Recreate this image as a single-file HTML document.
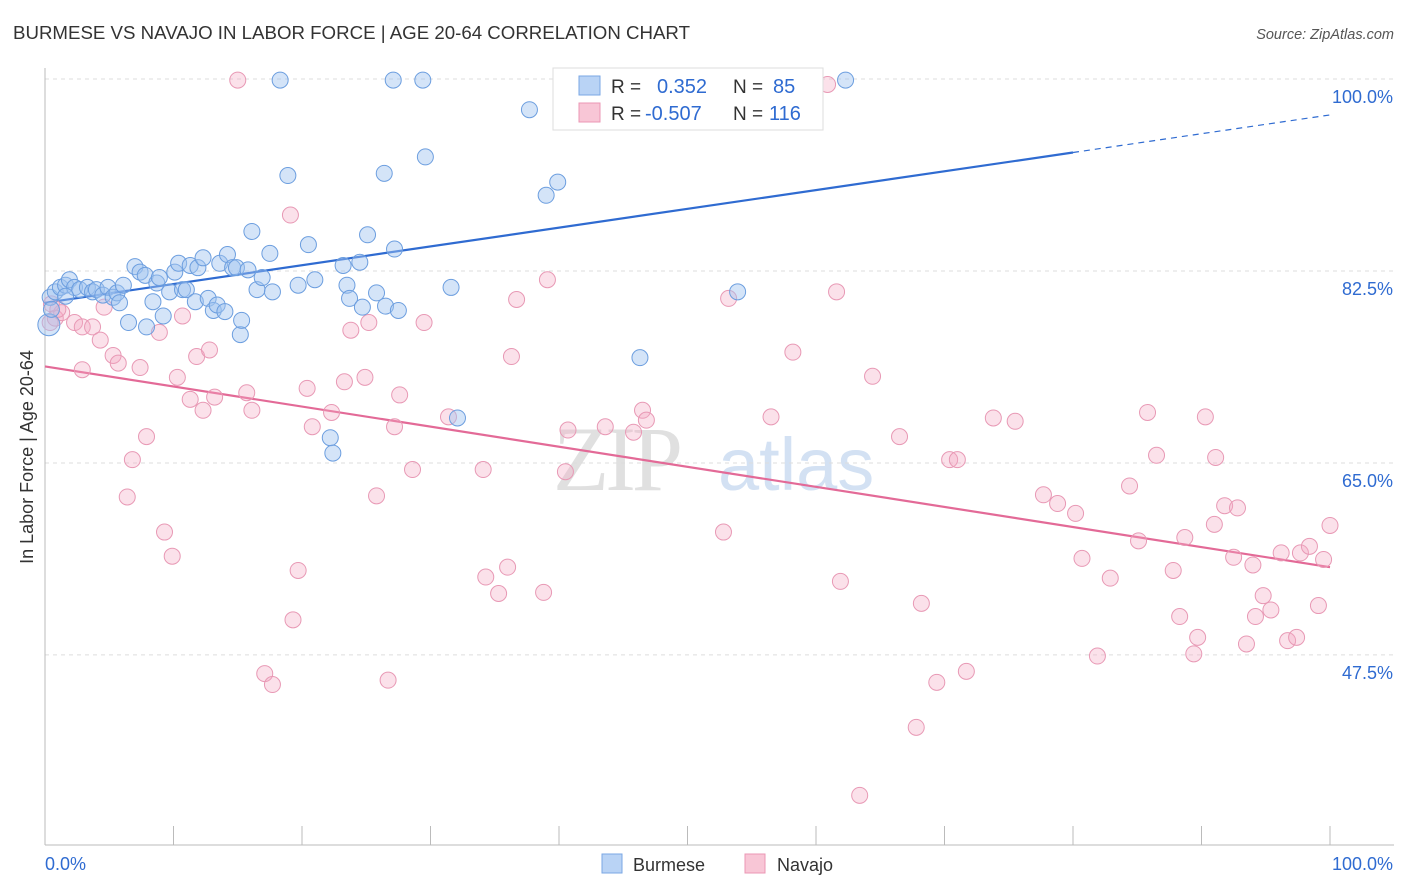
<!DOCTYPE html>
<html><head><meta charset="utf-8"><style>
body{margin:0;background:#fff;font-family:"Liberation Sans",sans-serif}
svg{display:block}
</style></head><body>
<svg id="chart" width="1406" height="892" viewBox="0 0 1406 892">
<text x="13" y="39" font-size="18" fill="#333" textLength="677" lengthAdjust="spacingAndGlyphs">BURMESE VS NAVAJO IN LABOR FORCE | AGE 20-64 CORRELATION CHART</text>
<text x="1394" y="39" font-size="14.5" fill="#555" font-style="italic" text-anchor="end">Source: ZipAtlas.com</text>
<text x="33" y="457" font-size="18" fill="#333" text-anchor="middle" transform="rotate(-90 33 457)">In Labor Force | Age 20-64</text>
<g><text x="553" y="490" font-size="92" fill="#e0e0e0" font-family="Liberation Serif,serif" letter-spacing="-4">ZIP</text><text x="718" y="490" font-size="74" fill="#d3e1f3">atlas</text></g>
<g id="grid"></g><g id="axes"></g><g id="trend"></g><g id="pts"></g>
<g>
<rect x="553" y="68" width="270" height="62" fill="#fff" stroke="#ddd"/>
<rect x="579" y="76" width="21" height="19" fill="#b9d3f5" stroke="#7aa7e4"/>
<rect x="579" y="103" width="21" height="19" fill="#f8c6d6" stroke="#eb97b4"/>
<text x="611" y="93" font-size="19" fill="#333">R =</text><text x="657" y="93" font-size="20" fill="#2f6bd1">0.352</text>
<text x="733" y="93" font-size="19" fill="#333">N =</text><text x="773" y="93" font-size="20" fill="#2f6bd1">85</text>
<text x="611" y="120" font-size="19" fill="#333">R =</text><text x="645" y="120" font-size="20" fill="#2f6bd1">-0.507</text>
<text x="733" y="120" font-size="19" fill="#333">N =</text><text x="769" y="120" font-size="20" fill="#2f6bd1">116</text>
</g>
<g>
<rect x="602" y="854" width="20" height="19" fill="#b9d3f5" stroke="#7aa7e4"/><text x="633" y="871" font-size="18" fill="#333">Burmese</text>
<rect x="745" y="854" width="20" height="19" fill="#f8c6d6" stroke="#eb97b4"/><text x="777" y="871" font-size="18" fill="#333">Navajo</text>
</g>
</svg>
<script>
const yTicks=[100,82.5,65,47.5];
const yTickLabels=["100.0%","82.5%","65.0%","47.5%"];
const xTickLabels=["0.0%","100.0%"];
const blueX=[0.3,0.4,0.8,1.2,1.6,1.9,2.3,2.7,3.3,3.7,4.0,4.5,4.9,5.3,5.6,5.8,6.1,6.5,7.0,7.4,7.8,7.9,8.4,8.7,8.9,9.2,9.7,10.1,10.4,10.7,11.0,11.3,11.7,11.9,12.3,12.7,13.1,13.4,13.6,14.0,14.2,14.6,14.9,15.2,15.3,15.8,16.1,16.5,16.9,17.5,17.7,18.3,18.9,19.7,20.5,21.0,23.2,23.5,23.7,24.5,24.7,25.1,25.8,26.4,26.5,27.2,27.5,27.1,29.4,29.6,31.6,32.1,22.2,22.4,37.7,39.0,39.9,46.3,53.9,62.3,0.5,1.6];
const blueY=[77.6,80.1,80.6,81.0,81.2,81.7,81.0,80.8,81.0,80.6,80.8,80.3,81.0,80.1,80.5,79.6,81.2,77.8,82.9,82.4,82.1,77.4,79.7,81.4,81.9,78.4,80.6,82.4,83.2,80.8,80.8,83.0,79.7,82.8,83.7,80.0,78.9,79.4,83.2,78.8,84.0,82.8,82.8,76.7,78.0,82.6,86.1,80.8,81.9,84.1,80.6,99.9,91.2,81.2,84.9,81.7,83.0,81.2,80.0,83.3,79.2,85.8,80.5,91.4,79.3,84.5,78.9,99.9,99.9,92.9,81.0,69.1,67.3,65.9,97.2,89.4,90.6,74.6,80.6,99.9,79.0,80.2];
const pinkX=[0.4,0.8,1.3,2.3,2.9,3.7,4.3,4.6,5.3,5.7,2.9,7.4,7.9,6.8,6.4,8.9,9.3,9.9,10.3,10.7,11.3,11.8,12.3,12.8,13.2,15.0,15.7,16.1,17.1,17.7,19.1,19.3,19.7,20.4,20.8,22.3,23.3,23.8,24.9,25.2,25.8,26.7,27.2,27.6,28.6,29.5,31.4,34.1,34.3,35.3,36.0,36.3,36.7,38.8,39.1,40.5,40.7,43.6,45.8,46.5,46.8,52.5,52.8,53.2,56.5,58.2,60.9,61.6,61.9,64.4,66.5,68.2,67.8,69.4,70.4,71.0,71.7,73.8,75.5,77.7,78.8,80.2,80.7,81.9,82.9,84.4,85.1,85.8,86.5,87.8,88.3,88.7,89.7,89.4,90.3,91.0,91.1,91.8,92.8,92.5,93.5,94.0,94.2,94.8,95.4,96.2,96.7,97.4,97.7,98.4,99.1,99.5,100.0,63.4,0.5,1.0];
const pinkY=[77.8,78.2,78.7,77.8,77.4,77.4,76.2,79.2,74.8,74.1,73.5,73.7,67.4,65.3,61.9,76.9,58.7,56.5,72.8,78.4,70.8,74.7,69.8,75.3,71.0,99.9,71.4,69.8,45.8,44.8,87.6,50.7,55.2,71.8,68.3,69.6,72.4,77.1,72.8,77.8,62.0,45.2,68.3,71.2,64.4,77.8,69.2,64.4,54.6,53.1,55.5,74.7,79.9,53.2,81.7,64.2,68.0,68.3,67.8,69.8,68.9,99.9,58.7,80.0,69.2,75.1,99.5,80.6,54.2,72.9,67.4,52.2,40.9,45.0,65.3,65.3,46.0,69.1,68.8,62.1,61.3,60.4,56.3,47.4,54.5,62.9,57.9,69.6,65.7,55.2,51.0,58.2,49.1,47.6,69.2,59.4,65.5,61.1,60.9,56.4,48.5,55.7,51.0,52.9,51.6,56.8,48.8,49.1,56.8,57.4,52.0,56.2,59.3,34.7,79.5,79.0];
const blueTrend=[79.6,93.3]; // value at x=0 and x=80
const pinkTrend=[73.8,55.5]; // value at x=0 and x=100
const NS="http://www.w3.org/2000/svg";
const X0=45,X1=1330,Ytop=79,PXY=10.97;
const xs=v=>X0+(X1-X0)*v/100;
const ys=v=>Ytop+(100-v)*PXY;
function mk(tag,attrs,parent){const e=document.createElementNS(NS,tag);for(const k in attrs)e.setAttribute(k,attrs[k]);parent.appendChild(e);return e;}
const grid=document.getElementById('grid'),axes=document.getElementById('axes');
yTicks.forEach((t,i)=>{
 const l=mk('line',{x1:45,x2:1394,y1:ys(t),y2:ys(t),stroke:'#ddd','stroke-dasharray':'4,4'},grid);
 
 
 const tx=mk('text',{x:1393,y:ys(t)+24,'font-size':18,fill:'#2f6bd1','text-anchor':'end'},axes);
 tx.textContent=yTickLabels[i];
 
 
});
const ax=mk('line',{x1:45,x2:1394,y1:845,y2:845,stroke:'#bbb'},axes);


const ay=mk('line',{x1:45,x2:45,y1:68,y2:845,stroke:'#bbb'},axes);


for(let i=1;i<=10;i++){const tk=mk('line',{x1:xs(i*10),x2:xs(i*10),y1:826,y2:845,stroke:'#bbb'},axes);
 
 }
const xl0=mk('text',{x:45,y:870,'font-size':18,fill:'#2f6bd1'},axes);xl0.textContent=xTickLabels[0];


const xl1=mk('text',{x:1393,y:870,'font-size':18,fill:'#2f6bd1','text-anchor':'end'},axes);xl1.textContent=xTickLabels[1];


const pts=document.getElementById('pts');
pinkX.forEach((x,i)=>{const c=mk('circle',{cx:xs(x),cy:ys(pinkY[i]),r:8,fill:'rgba(244,170,196,0.35)',stroke:'#e899b5','stroke-width':1},pts);
 
 });
blueX.forEach((x,i)=>{const c=mk('circle',{cx:xs(x),cy:ys(blueY[i]),r:i==0?11:8,fill:'rgba(160,196,240,0.45)',stroke:'#6c9edf','stroke-width':1},pts);
 
 });
const tr=document.getElementById('trend');
const slope=(blueTrend[1]-blueTrend[0])/80;
const b1=mk('line',{x1:xs(0),y1:ys(blueTrend[0]),x2:xs(80),y2:ys(blueTrend[1]),stroke:'#2f6bd1','stroke-width':2.2},tr);


const b2=mk('line',{x1:xs(80),y1:ys(blueTrend[1]),x2:xs(100),y2:ys(blueTrend[0]+slope*100),stroke:'#2f6bd1','stroke-width':1.2,'stroke-dasharray':'6,5'},tr);


const p1=mk('line',{x1:xs(0),y1:ys(pinkTrend[0]),x2:xs(100),y2:ys(pinkTrend[1]),stroke:'#e36a97','stroke-width':2.2},tr);


</script>
</body></html>
